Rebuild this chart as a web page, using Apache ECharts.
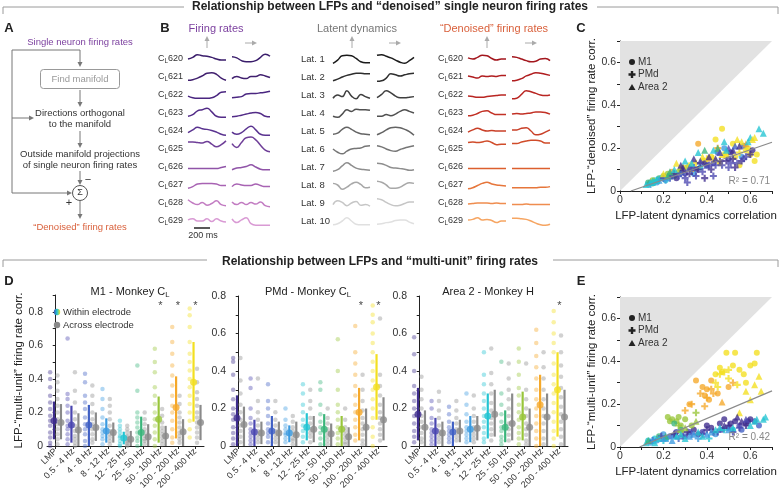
<!DOCTYPE html>
<html>
<head>
<meta charset="utf-8">
<script src="https://cdn.jsdelivr.net/npm/echarts@6/dist/echarts.min.js"></script>
<style>html,body{margin:0;padding:0;background:#fff}#chart{width:781px;height:493px}</style>
</head>
<body>
<div id="chart"></div>
<script>
const FONT = '"Liberation Sans", Arial, Helvetica, sans-serif';

// ---- frequency bands (panel D, colours also used in C / E)
const bandNames = ['LMP', '0.5 - 4 Hz', '4 - 8 Hz', '8 - 12 Hz', '12 - 25 Hz', '25 - 50 Hz', '50 - 100 Hz', '100 - 200 Hz', '200 - 400 Hz'];
const bandColors = ['#3d2c8d', '#4a46b0', '#3f5fc4', '#3b9ae0', '#22c4d2', '#3ab57a', '#98c53a', '#f5a829', '#f3df1f'];

// ---- panel B traces (shape per row, up = positive)
const firingLabels = ['620', '621', '622', '623', '624', '625', '626', '627', '628', '629'];
const latentLabels = ['Lat. 1', 'Lat. 2', 'Lat. 3', 'Lat. 4', 'Lat. 5', 'Lat. 6', 'Lat. 7', 'Lat. 8', 'Lat. 9', 'Lat. 10'];
const firingCol1 = [
  [0, 0.3, 0.8, 0.6, 0.5, 0.3, 0, -0.2, -0.2],
  [-0.6, -0.5, -0.2, 0.2, 0.7, 0.8, 0.5, -0.2, -0.6],
  [-0.2, -0.5, -0.6, -0.6, -0.6, -0.5, -0.1, 0.5, 0.6],
  [-0.6, -0.3, 0.4, 0.6, 0.9, 0.2, -0.6, -0.8, -0.8],
  [-0.3, 0.2, 0.7, 0.4, 0.3, 0.1, -0.2, -0.6, -0.8],
  [1.3, 1.3, 1.2, 1.1, 1.4, 0.9, 0.4, 0.8, 1.5],
  [-0.3, -0.3, -0.3, -0.3, -0.3, -0.3, -0.3, -0.1, 0.1],
  [-0.6, -0.3, 0.2, 0.3, 0.3, 0.3, 0.2, -0.1, -0.1],
  [0.6, 0, -0.3, 0.1, -0.4, -0.1, 0.4, -0.3, -0.5],
  [0.2, 0.4, 0, 0, 0.4, -0.1, 0.4, 0, -0.2]
];
const firingCol2 = [
  [0.4, 0.2, -0.3, -0.5, -0.5, -0.3, 0.3, 0.9, 0.5],
  [-0.3, 0.1, -0.2, -0.3, 0.1, 0.1, 0.4, 0.2, -0.1],
  [-0.5, -0.4, -0.3, 0.2, 0.3, 0.3, 0.4, 0.5, 0.7],
  [-0.7, -0.6, -0.4, -0.2, 0, 0.1, -0.1, -0.6, -0.7],
  [-0.2, -0.6, -0.3, 0.4, 0.9, 0.2, -0.6, -0.8, -0.8],
  [1.0, 0.3, 1.2, 2.1, 2.2, 1.7, 0.7, -0.2, -0.5],
  [-0.5, -0.2, -0.1, 0.1, 0.4, 0, -0.4, -0.5, -0.5],
  [-0.3, 0.2, 0, -0.1, -0.1, 0.2, -0.1, -0.3, -0.3],
  [0.2, -0.3, 0.1, -0.3, 0.1, -0.2, 0.2, -0.5, -0.7],
  [0.4, -0.3, 0.2, 0.6, -0.5, -0.8, -0.8, -0.8, -0.8]
];
const latentCol1 = [
  [-0.8, -0.2, 0.6, 0.7, 0.6, 0.1, -0.5, -0.7, -0.7],
  [-0.7, -0.4, 0, 0.3, 0.5, 0.7, 0.7, 0.6, 0.6],
  [-0.6, 0, -0.3, 0.8, -0.2, -0.7, 0.1, -0.3, -0.6],
  [-0.6, -0.8, -0.2, 0.6, 0.3, 0.7, 0.6, 0.6, 0.5],
  [-0.6, -0.4, 0.3, 0.7, 0.3, -0.2, -0.5, -0.6, -0.7],
  [0, -0.6, -0.9, -0.4, 0, 0.1, 0.2, 0.5, 0.6],
  [-0.8, -0.5, 0.2, 0.8, 0.3, -0.2, -0.4, -0.5, -0.6],
  [0.3, 0, -0.8, -0.4, 0.2, 0.5, 0.1, -0.5, -0.4],
  [-0.3, 0.4, 0.1, -0.5, 0, 0.3, -0.4, -0.3, -0.6],
  [-0.7, -0.5, 0, 0.6, 0, -0.6, -0.7, -0.7, -0.7]
];
const latentCol2 = [
  [0.7, 0.8, 0.5, 0.2, -0.2, -0.6, -0.8, -0.3, 0.3],
  [-0.8, -0.7, -0.2, 0.6, 0.4, 0.2, 0.4, 0.6, 0.7],
  [-0.5, 0.1, 0.8, 0.4, -0.2, -0.5, -0.5, -0.4, -0.3],
  [-0.6, -0.6, -0.3, -0.5, -0.2, 0.3, 0.6, 0.3, 0],
  [-0.7, -0.3, 0.2, 0.6, 0.7, 0.6, 0.3, -0.1, -0.8],
  [0.6, 0.4, 0, -0.3, -0.4, -0.1, 0.2, 0.4, 0.6],
  [0.7, 0.6, 0.3, -0.1, -0.2, -0.3, -0.4, -0.6, -0.5],
  [0.7, 0.5, 0, -0.6, -0.6, -0.4, 0.1, 0.4, 0.3],
  [0.8, 0.6, 0.1, -0.3, -0.5, -0.4, -0.1, 0.2, 0.2],
  [-0.6, -0.5, -0.3, -0.2, 0.1, 0.2, 0.2, -0.2, -0.5]
];
const denoisedCol1 = [
  [0.2, 0, 0.3, 0.7, 0.6, 0.1, -0.2, 0, 0],
  [0.2, 0, -0.2, 0.2, 0.1, 0.2, 0.1, 0.3, 0.3],
  [-0.2, -0.3, -0.4, -0.4, -0.3, -0.2, -0.1, 0, 0],
  [-0.5, -0.4, -0.1, 0.3, 0.4, 0, -0.3, -0.3, -0.3],
  [-0.2, 0.2, 0.5, 0.2, 0, 0.1, 0, 0, 0],
  [1.2, 1.3, 1.2, 1.3, 1.5, 1.2, 0.8, 0.9, 0.9],
  [-0.3, -0.3, -0.3, -0.3, -0.3, -0.3, -0.3, -0.3, -0.3],
  [-0.7, -0.5, -0.1, 0.3, 0.5, 0.2, 0, -0.1, -0.2],
  [-0.2, -0.1, 0, 0, 0, -0.1, 0, -0.1, -0.1],
  [0.2, 0.3, 0.6, 0.2, 0.3, 0.1, -0.3, 0, 0]
];
const denoisedCol2 = [
  [0.4, 0.3, 0, -0.3, -0.5, -0.4, 0, 0.1, -0.3],
  [-0.7, -0.6, -0.3, 0.2, 0.5, 0.8, 0.7, 0.5, 0.3],
  [-0.7, -0.6, 0.1, 0.8, 0.6, 0.3, 0, -0.1, 0],
  [-0.2, -0.1, -0.2, -0.1, 0, 0.2, 0.2, 0.1, -0.2],
  [0.2, 0.2, 0.5, 0.6, 0, -0.7, -0.6, -0.2, 0.2],
  [1.0, 1.0, 1.3, 1.5, 1.6, 1.6, 1.5, 1.1, 1.1],
  [-0.3, -0.3, -0.3, -0.3, -0.3, -0.3, -0.3, -0.3, -0.3],
  [-0.5, -0.5, -0.5, -0.5, -0.5, -0.5, -0.4, -0.4, -0.3],
  [-0.3, -0.3, -0.3, -0.2, -0.3, -0.3, -0.3, -0.3, -0.3],
  [0.5, 0.5, 0.4, 0.3, 0, -0.4, -0.7, -0.8, -0.6]
];
const firingColors = ['#3a1d6b', '#41206f', '#4a2680', '#522b87', '#5a3390', '#6f3f98', '#9054a8', '#a863b3', '#c27cc2', '#d99ad4'];
const latentColors = ['#1b1b1b', '#2e2e2e', '#3f3f3f', '#505050', '#646464', '#767676', '#8e8e8e', '#a8a8a8', '#c6c6c6', '#e0e0e0'];
const denoisedColors = ['#a3161d', '#b01d1f', '#b92622', '#c23125', '#c93f27', '#d04c2a', '#dc5f2e', '#e6763b', '#ef8d4f', '#f6a562'];

// ---- panel C : [latent corr, denoised corr, band]
const cM1 = [[0.13,0.03,4],[0.14,0.04,3],[0.15,0.035,5],[0.16,0.05,4],[0.17,0.04,3],[0.18,0.06,5],[0.2,0.07,6],[0.21,0.05,4],[0.22,0.08,6],[0.24,0.09,7],[0.25,0.07,5],[0.26,0.06,0],[0.28,0.1,8],[0.3,0.08,1],[0.31,0.11,6],[0.32,0.12,8],[0.35,0.1,0],[0.36,0.22,7],[0.38,0.14,8],[0.4,0.12,2],[0.41,0.15,7],[0.42,0.16,8],[0.45,0.18,2],[0.47,0.29,8],[0.48,0.2,3],[0.5,0.15,1],[0.52,0.22,8],[0.55,0.12,8],[0.57,0.21,2],[0.58,0.19,8],[0.6,0.17,8],[0.62,0.14,8],[0.46,0.13,8],[0.34,0.08,3],
  [0.13,0.04,5],[0.15,0.05,6],[0.19,0.06,4],[0.23,0.07,5],[0.27,0.09,6],[0.29,0.11,8],[0.33,0.1,7],[0.37,0.11,4],[0.39,0.13,0],[0.43,0.13,1],[0.49,0.17,8],[0.51,0.18,0],[0.53,0.16,8],[0.56,0.16,3],[0.59,0.2,8],[0.61,0.19,0],[0.63,0.17,8],[0.44,0.24,8]];
const cPMd = [[0.14,0.03,3],[0.17,0.05,4],[0.2,0.06,1],[0.23,0.06,2],[0.25,0.08,0],[0.27,0.07,1],[0.29,0.09,0],[0.3,0.06,1],[0.33,0.1,2],[0.35,0.07,1],[0.35,0.13,8],[0.37,0.13,0],[0.38,0.09,1],[0.4,0.15,8],[0.42,0.1,0],[0.43,0.07,1],[0.44,0.12,1],[0.45,0.2,7],[0.46,0.14,0],[0.48,0.17,8],[0.5,0.11,1],[0.52,0.15,0],[0.54,0.13,1],[0.56,0.14,0],[0.58,0.16,1],[0.55,0.18,8],[0.31,0.04,1],[0.39,0.06,0],
  [0.16,0.04,4],[0.21,0.05,3],[0.24,0.07,1],[0.28,0.08,2],[0.32,0.08,0],[0.34,0.11,1],[0.36,0.1,0],[0.41,0.12,1],[0.47,0.12,1],[0.49,0.14,0],[0.51,0.13,1],[0.53,0.11,0],[0.57,0.15,1],[0.6,0.17,0],[0.43,0.15,8]];
const cArea2 = [[0.12,0.03,4],[0.15,0.045,4],[0.18,0.05,3],[0.2,0.08,8],[0.23,0.09,5],[0.26,0.13,8],[0.28,0.12,0],[0.3,0.14,4],[0.32,0.11,1],[0.34,0.15,0],[0.36,0.18,4],[0.38,0.16,8],[0.4,0.12,1],[0.43,0.19,4],[0.45,0.2,5],[0.47,0.17,8],[0.5,0.2,1],[0.52,0.19,0],[0.53,0.21,2],[0.54,0.24,8],[0.56,0.23,8],[0.6,0.25,4],[0.61,0.24,8],[0.64,0.29,4],[0.66,0.27,4],[0.58,0.22,7],[0.44,0.15,0],
  [0.14,0.04,4],[0.17,0.05,4],[0.22,0.07,5],[0.25,0.1,4],[0.29,0.11,0],[0.33,0.13,4],[0.37,0.14,1],[0.41,0.16,0],[0.46,0.18,1],[0.49,0.19,4],[0.55,0.21,0],[0.62,0.25,8],[0.59,0.23,4],[0.48,0.23,4],[0.39,0.19,5]];
const cFit = [[0.05, 0], [0.7, 0.2275]];
const cR2 = 'R² = 0.71';

// ---- panel E : [latent corr, multi-unit corr, band]
const eM1 = [[0.22,0.14,6],[0.24,0.13,6],[0.26,0.12,6],[0.27,0.14,6],[0.28,0.1,6],[0.3,0.13,6],[0.32,0.2,7],[0.35,0.31,7],[0.38,0.28,7],[0.39,0.24,7],[0.4,0.27,7],[0.41,0.22,7],[0.42,0.31,7],[0.44,0.34,8],[0.45,0.25,7],[0.46,0.37,8],[0.47,0.35,8],[0.49,0.44,8],[0.5,0.28,7],[0.52,0.38,8],[0.53,0.44,8],[0.55,0.36,8],[0.57,0.34,8],[0.58,0.3,8],[0.6,0.38,8],[0.62,0.39,8],[0.63,0.44,8],
  [0.14,0.02,3],[0.16,0.04,4],[0.18,0.05,5],[0.2,0.06,3],[0.23,0.05,2],[0.26,0.07,1],[0.3,0.05,2],[0.34,0.08,0],[0.38,0.07,1],[0.42,0.09,0],[0.44,0.06,3],[0.46,0.11,0],[0.48,0.13,0],[0.5,0.09,1],[0.52,0.08,4],[0.53,0.12,0],[0.55,0.1,1],[0.58,0.11,0],[0.6,0.13,0],[0.62,0.12,1],[0.64,0.1,2],
  [0.13,0.03,4],[0.17,0.03,3],[0.21,0.04,4],[0.25,0.05,3],[0.28,0.08,5],[0.32,0.07,1],[0.36,0.06,0],[0.4,0.1,0],[0.47,0.08,1],[0.51,0.11,0],[0.56,0.08,2],[0.59,0.12,0],[0.23,0.12,6],[0.25,0.11,5],[0.33,0.1,6]];
const ePMd = [[0.27,0.1,6],[0.28,0.07,6],[0.3,0.17,7],[0.33,0.2,7],[0.35,0.16,6],[0.37,0.25,7],[0.4,0.23,7],[0.42,0.27,7],[0.44,0.3,8],[0.46,0.34,8],[0.48,0.35,8],[0.5,0.32,8],[0.52,0.3,7],[0.54,0.29,8],
  [0.15,0.03,2],[0.19,0.05,1],[0.22,0.04,3],[0.25,0.06,0],[0.29,0.05,1],[0.33,0.06,2],[0.36,0.04,3],[0.4,0.08,0],[0.41,0.04,4],[0.45,0.07,1],[0.5,0.1,0],[0.55,0.09,1],
  [0.2,0.03,4],[0.27,0.04,2],[0.31,0.07,0],[0.38,0.06,1],[0.43,0.07,0],[0.48,0.08,4],[0.52,0.07,1],[0.58,0.1,0],[0.43,0.25,7],[0.45,0.28,8],[0.5,0.36,8],[0.39,0.19,7]];
const eArea2 = [[0.58,0.26,8],[0.62,0.29,8],[0.64,0.33,8],[0.6,0.22,8],[0.65,0.26,8],[0.47,0.21,7],[0.55,0.16,8],[0.3,0.09,6],[0.35,0.12,6],
  [0.12,0.02,4],[0.15,0.03,3],[0.18,0.04,4],[0.21,0.05,5],[0.24,0.03,3],[0.28,0.06,4],[0.32,0.05,3],[0.36,0.07,4],[0.4,0.06,3],[0.44,0.08,4],[0.48,0.1,0],[0.52,0.09,4],[0.54,0.14,0],[0.56,0.12,0],[0.58,0.13,1],[0.6,0.1,4],[0.63,0.13,4],[0.66,0.13,4],
  [0.13,0.03,5],[0.16,0.02,4],[0.2,0.04,3],[0.26,0.05,4],[0.3,0.04,4],[0.34,0.06,3],[0.38,0.05,4],[0.42,0.07,3],[0.46,0.09,4],[0.5,0.08,3],[0.62,0.12,4],[0.67,0.14,4]];
const eFit = [[0.09, 0], [0.7, 0.262]];
const eR2 = 'R² = 0.42';

// ---- panel D : M1 - Monkey CL
const m1WithinDots = [
  [0.44,0.4,0.35,0.3,0.26,0.22,0.18,0.15,0.12,0.08,0.05,0.02,0],
  [0.64,0.31,0.28,0.24,0.2,0.15,0.12,0.1,0.07,0.04,0.01],
  [0.43,0.38,0.3,0.26,0.22,0.17,0.13,0.1,0.07,0.03,0],
  [0.34,0.28,0.22,0.17,0.13,0.1,0.08,0.06,0.04,0.01],
  [0.15,0.12,0.1,0.08,0.06,0.05,0.03,0.01,0],
  [0.48,0.33,0.2,0.17,0.14,0.11,0.08,0.05,0.03,0],
  [0.58,0.5,0.44,0.35,0.3,0.25,0.2,0.16,0.12,0.08,0.04,0],
  [0.71,0.62,0.55,0.48,0.42,0.36,0.3,0.24,0.2,0.15,0.1,0.05,0.02],
  [0.82,0.78,0.71,0.62,0.55,0.5,0.45,0.4,0.35,0.3,0.25,0.2,0.15,0.1,0.05]
];
const m1AcrossDots = [
  [0.42,0.38,0.33,0.28,0.24,0.2,0.16,0.13,0.1,0.07,0.04,0.01],
  [0.44,0.33,0.26,0.2,0.16,0.12,0.09,0.06,0.04,0.02,0],
  [0.36,0.3,0.25,0.2,0.16,0.13,0.1,0.07,0.04,0.02],
  [0.28,0.24,0.2,0.16,0.12,0.09,0.07,0.05,0.03,0.01],
  [0.12,0.1,0.08,0.06,0.05,0.04,0.03,0.02,0.01,0],
  [0.2,0.16,0.13,0.1,0.08,0.06,0.04,0.03,0.01],
  [0.22,0.18,0.14,0.11,0.09,0.07,0.05,0.03,0.01],
  [0.3,0.25,0.2,0.17,0.14,0.11,0.08,0.06,0.04,0.02],
  [0.46,0.38,0.32,0.28,0.24,0.2,0.17,0.14,0.11,0.08,0.05,0.02]
];
const m1WithinStats = [[0.15,0.04,0.265],[0.125,0.02,0.24],[0.125,0,0.245],[0.09,0.02,0.165],[0.048,0.01,0.085],[0.08,0,0.175],[0.16,0.02,0.295],[0.23,0.045,0.415],[0.38,0.145,0.62]];
const m1AcrossStats = [[0.14,0.04,0.25],[0.095,0,0.195],[0.11,0.03,0.2],[0.08,0.02,0.14],[0.04,0,0.09],[0.055,0,0.13],[0.06,0,0.12],[0.085,0,0.16],[0.14,0.035,0.245]];
const m1Stars = [6, 7, 8];
const m1StarY = 0.835;

// ---- panel D : PMd - Monkey CL
const pmdWithinDots = [
  [0.47,0.45,0.38,0.3,0.25,0.2,0.17,0.14,0.1,0.07,0.04,0.01],
  [0.36,0.31,0.2,0.15,0.12,0.09,0.07,0.05,0.03,0.01],
  [0.33,0.24,0.2,0.16,0.12,0.09,0.07,0.05,0.02],
  [0.2,0.14,0.11,0.09,0.07,0.06,0.04,0.02],
  [0.33,0.28,0.22,0.18,0.14,0.11,0.08,0.05,0.02],
  [0.34,0.3,0.22,0.17,0.13,0.1,0.07,0.04,0.01],
  [0.57,0.4,0.3,0.22,0.18,0.14,0.1,0.07,0.04,0.01],
  [0.64,0.5,0.44,0.38,0.32,0.27,0.22,0.18,0.14,0.1,0.06,0.03],
  [0.75,0.7,0.66,0.6,0.55,0.5,0.45,0.4,0.35,0.3,0.25,0.2,0.15,0.1,0.05,0]
];
const pmdAcrossDots = [
  [0.47,0.35,0.28,0.22,0.18,0.14,0.11,0.08,0.05,0.02],
  [0.36,0.24,0.18,0.14,0.11,0.08,0.06,0.04,0.02],
  [0.24,0.18,0.14,0.11,0.08,0.06,0.04,0.02],
  [0.16,0.13,0.1,0.08,0.06,0.04,0.03,0.01],
  [0.3,0.24,0.2,0.15,0.12,0.09,0.07,0.05,0.02],
  [0.2,0.15,0.12,0.09,0.07,0.05,0.03,0.01],
  [0.2,0.14,0.1,0.08,0.06,0.04,0.02,0.01],
  [0.38,0.3,0.24,0.19,0.15,0.12,0.09,0.06,0.03,0.01],
  [0.68,0.38,0.32,0.27,0.22,0.18,0.15,0.12,0.09,0.06,0.03]
];
const pmdWithinStats = [[0.15,0,0.27],[0.075,0,0.14],[0.08,0,0.16],[0.07,0.02,0.11],[0.1,0.03,0.175],[0.09,0,0.17],[0.09,0,0.16],[0.18,0.03,0.31],[0.315,0.14,0.49]];
const pmdAcrossStats = [[0.115,0,0.21],[0.07,0.01,0.13],[0.07,0,0.13],[0.06,0,0.13],[0.09,0.02,0.16],[0.065,0,0.12],[0.05,0,0.1],[0.1,0,0.2],[0.14,0.03,0.26]];
const pmdStars = [7, 8];
const pmdStarY = 0.745;

// ---- panel D : Area 2 - Monkey H
const a2WithinDots = [
  [0.58,0.49,0.4,0.32,0.28,0.24,0.2,0.16,0.12,0.08,0.05,0.02],
  [0.24,0.2,0.15,0.12,0.09,0.07,0.05,0.03,0.01],
  [0.21,0.17,0.13,0.1,0.08,0.06,0.04,0.02],
  [0.28,0.22,0.17,0.13,0.1,0.08,0.06,0.04,0.02],
  [0.5,0.38,0.33,0.28,0.24,0.2,0.16,0.13,0.1,0.07,0.04,0.02],
  [0.45,0.28,0.22,0.17,0.13,0.1,0.08,0.05,0.03,0.01],
  [0.52,0.45,0.38,0.31,0.27,0.22,0.18,0.14,0.1,0.07,0.04,0.01],
  [0.62,0.55,0.48,0.42,0.36,0.3,0.25,0.2,0.16,0.12,0.08,0.04,0],
  [0.72,0.66,0.6,0.55,0.5,0.44,0.38,0.33,0.28,0.23,0.18,0.13,0.08,0.04,0]
];
const a2AcrossDots = [
  [0.37,0.3,0.25,0.2,0.16,0.13,0.1,0.07,0.04,0.02],
  [0.29,0.24,0.19,0.15,0.11,0.08,0.06,0.04,0.02],
  [0.24,0.19,0.15,0.12,0.09,0.07,0.05,0.03],
  [0.27,0.2,0.16,0.13,0.1,0.08,0.06,0.04,0.02],
  [0.52,0.39,0.33,0.28,0.23,0.19,0.15,0.12,0.09,0.06,0.03],
  [0.44,0.36,0.3,0.25,0.2,0.16,0.12,0.09,0.06,0.03],
  [0.44,0.3,0.25,0.2,0.16,0.12,0.09,0.06,0.03,0.01],
  [0.5,0.42,0.36,0.3,0.25,0.2,0.16,0.12,0.08,0.04,0.01],
  [0.59,0.5,0.43,0.37,0.31,0.26,0.21,0.17,0.13,0.09,0.05,0.01]
];
const a2WithinStats = [[0.17,0.03,0.31],[0.08,0,0.15],[0.075,0,0.13],[0.09,0.02,0.16],[0.16,0.04,0.28],[0.1,0.02,0.19],[0.155,0.03,0.29],[0.22,0,0.38],[0.3,0.05,0.5]];
const a2AcrossStats = [[0.1,0,0.19],[0.07,0,0.13],[0.08,0.02,0.14],[0.095,0.03,0.16],[0.17,0.05,0.3],[0.12,0.03,0.28],[0.1,0,0.2],[0.155,0,0.28],[0.155,0,0.3]];
const a2Stars = [8];
const a2StarY = 0.745;

// ---------------------------------------------------------------
const grid = [], xAxis = [], yAxis = [], series = [], graphic = [];

function txt(x, y, text, opt) {
  opt = opt || {};
  const align = opt.align || 'center';
  const va = opt.verticalAlign || 'middle';
  return {
    type: 'text', x: x, y: y, silent: true, z: 100,
    style: Object.assign({
      text: text, fill: '#222', fontSize: 9.5, fontFamily: FONT,
      align: align, textAlign: align, verticalAlign: va, textVerticalAlign: va
    }, opt)
  };
}
function subText(x, y, main, sub, rest, opt) {
  opt = opt || {};
  const fs = opt.fontSize || 9;
  const color = opt.fill || '#222';
  const t = txt(x, y, '{a|' + main + '}{s|' + sub + '}' + (rest ? '{a|' + rest + '}' : ''), opt);
  t.style.rich = {
    a: { fontSize: fs, fontFamily: FONT, fill: color, color: color, lineHeight: fs + 4 },
    s: { fontSize: fs * 0.7, fontFamily: FONT, fill: color, color: color, lineHeight: fs * 0.7, padding: [fs * 0.55, 0, 0, 0] }
  };
  return t;
}
function line(x1, y1, x2, y2, color, w) {
  return { type: 'line', silent: true, z: 100, shape: { x1: x1, y1: y1, x2: x2, y2: y2 }, style: { stroke: color, lineWidth: w || 1 } };
}
function shape(type, shp, style) {
  return { type: type, silent: true, z: 100, shape: shp, style: style };
}
function arrow(x1, y1, x2, y2, color, head) {
  const a = Math.atan2(y2 - y1, x2 - x1), L = head || 5, W = L * 0.5;
  const bx = x2 - L * Math.cos(a), by = y2 - L * Math.sin(a);
  const px = -Math.sin(a) * W, py = Math.cos(a) * W;
  return [line(x1, y1, bx, by, color, 1),
    shape('polygon', { points: [[x2, y2], [bx + px, by + py], [bx - px, by - py]] }, { fill: color })];
}
const fmt02 = v => (Math.abs(v * 5 - Math.round(v * 5)) < 1e-6) ? (Math.abs(v) < 1e-9 ? '0' : (+v).toFixed(1)) : '';

// ---- section headers
const GRAY = '#9a9a9a';
graphic.push(txt(390, 7, 'Relationship between LFPs and \u201cdenoised\u201d single neuron firing rates', { fontSize: 12, fontWeight: 'bold' }));
graphic.push(line(3, 7, 184, 7, GRAY), line(3, 7, 3, 14, GRAY), line(597, 7, 778, 7, GRAY), line(778, 7, 778, 14, GRAY));
graphic.push(txt(380, 262, 'Relationship between LFPs and \u201cmulti-unit\u201d firing rates', { fontSize: 12, fontWeight: 'bold' }));
graphic.push(line(3, 260, 207, 260, GRAY), line(3, 260, 3, 267, GRAY), line(553, 260, 778, 260, GRAY), line(778, 260, 778, 267, GRAY));

// ---- panel letters
[['A', 9, 28], ['B', 165, 28], ['C', 581, 28], ['D', 9, 281], ['E', 581, 281]].forEach(p =>
  graphic.push(txt(p[1], p[2], p[0], { fontSize: 13, fontWeight: 'bold' })));

// ---- panel A flowchart
const AG = '#777';
graphic.push(txt(80, 42, 'Single neuron firing rates', { fill: '#7b3f9e' }));
graphic.push(line(12, 50, 80, 50, AG), line(12, 50, 12, 193, AG));
graphic.push(...arrow(80, 50, 80, 67, AG));
graphic.push(shape('rect', { x: 40.5, y: 69.5, width: 79, height: 19, r: 3 }, { fill: '#fff', stroke: '#999', lineWidth: 1 }));
graphic.push(txt(80, 79, 'Find manifold', { fill: '#999' }));
graphic.push(...arrow(80, 90, 80, 107, AG));
graphic.push(...arrow(12, 118, 34, 118, AG));
graphic.push(txt(80, 113, 'Directions orthogonal', { fill: '#333' }), txt(80, 124, 'to the manifold', { fill: '#333' }));
graphic.push(...arrow(80, 131, 80, 148, AG));
graphic.push(txt(80, 154, 'Outside manifold projections', { fill: '#333' }), txt(80, 165, 'of single neuron firing rates', { fill: '#333' }));
graphic.push(...arrow(80, 171, 80, 185, AG));
graphic.push(txt(88, 180, '\u2212', { fill: '#333', fontSize: 11 }));
graphic.push(...arrow(12, 193, 72, 193, AG));
graphic.push(shape('circle', { cx: 80, cy: 193, r: 7.5 }, { fill: '#fff', stroke: '#555', lineWidth: 1 }));
graphic.push(txt(80, 193, '\u03a3', { fill: '#333', fontSize: 9 }));
graphic.push(txt(69, 203, '+', { fill: '#333', fontSize: 11 }));
graphic.push(...arrow(80, 201, 80, 219, AG));
graphic.push(txt(80, 227, '\u201cDenoised\u201d firing rates', { fill: '#d9603b' }));

// ---- panel B traces
const traceCols = [
  { left: 188, width: 38, data: firingCol1, colors: firingColors },
  { left: 232, width: 38, data: firingCol2, colors: firingColors },
  { left: 333, width: 37, data: latentCol1, colors: latentColors },
  { left: 377, width: 37, data: latentCol2, colors: latentColors },
  { left: 468, width: 38, data: denoisedCol1, colors: denoisedColors },
  { left: 512, width: 38, data: denoisedCol2, colors: denoisedColors }
];
traceCols.forEach(col => {
  const gi = grid.length;
  grid.push({ left: col.left, top: 50, width: col.width, height: 180 });
  xAxis.push({ gridIndex: gi, type: 'value', min: 0, max: 8, show: false });
  yAxis.push({ gridIndex: gi, type: 'value', min: -10, max: 0, show: false });
  col.data.forEach((shp, r) => series.push({
    type: 'line', xAxisIndex: xAxis.length - 1, yAxisIndex: yAxis.length - 1,
    smooth: 0.5, showSymbol: false, silent: true, animation: false,
    lineStyle: { color: col.colors[r], width: 1.5 },
    data: shp.map((v, k) => [k, -(r + 0.5) + v * 0.3])
  }));
});
firingLabels.forEach((n, r) => {
  graphic.push(subText(183, 59 + 18 * r, 'C', 'L', n, { align: 'right', fontSize: 9, fill: '#333' }));
  graphic.push(subText(463, 59 + 18 * r, 'C', 'L', n, { align: 'right', fontSize: 9, fill: '#333' }));
});
latentLabels.forEach((n, r) => graphic.push(txt(301, 59 + 18 * r, n, { align: 'left', fontSize: 9.5, fill: '#333' })));
graphic.push(txt(216, 29, 'Firing rates', { fontSize: 11, fill: '#7b3f9e' }));
graphic.push(txt(357, 29, 'Latent dynamics', { fontSize: 11, fill: '#777' }));
graphic.push(txt(494, 29, '\u201cDenoised\u201d firing rates', { fontSize: 11, fill: '#d9603b' }));
[[207, 251], [352, 395], [487, 531]].forEach(p => {
  graphic.push(...arrow(p[0], 48, p[0], 36, '#aaa', 5));
  graphic.push(...arrow(p[1] - 6, 43, p[1] + 6, 43, '#aaa', 5));
});
graphic.push(line(194, 228, 210, 228, '#222', 1.5));
graphic.push(txt(203, 236, '200 ms', { fontSize: 9, fill: '#333' }));

// ---- panels C and E (scatter)
const plusPath = 'path://M3.5,0H6.5V3.5H10V6.5H6.5V10H3.5V6.5H0V3.5H3.5Z';
function scatterPanel(top, m1, pmd, area2, fit, r2, yName) {
  const gi = grid.length;
  grid.push({ left: 620, top: top, width: 152, height: 150 });
  const axisCommon = {
    gridIndex: gi, type: 'value', min: 0, max: 0.7, interval: 0.1,
    axisLine: { show: true, lineStyle: { color: '#222', width: 1 } },
    axisTick: { show: true, length: 3, lineStyle: { color: '#222' } },
    splitLine: { show: false },
    axisLabel: { formatter: fmt02, fontSize: 10.5, color: '#333', fontFamily: FONT, margin: 4 },
    nameLocation: 'middle', nameTextStyle: { fontSize: 11.5, color: '#222', fontFamily: FONT }
  };
  xAxis.push(Object.assign({}, axisCommon, { name: 'LFP-latent dynamics correlation', nameGap: 19 }));
  yAxis.push(Object.assign({}, axisCommon, { name: yName, nameGap: 22 }));
  const xi = xAxis.length - 1, yi = yAxis.length - 1;
  series.push({ type: 'line', xAxisIndex: xi, yAxisIndex: yi, silent: true, showSymbol: false, animation: false,
    data: [[0, 0], [0.7, 0.7]], lineStyle: { width: 0 }, areaStyle: { origin: 'end', color: '#e2e2e2', opacity: 1 }, z: 1 });
  series.push({ type: 'line', xAxisIndex: xi, yAxisIndex: yi, silent: true, showSymbol: false, animation: false,
    data: fit, lineStyle: { color: '#8a8a8a', width: 1.3 }, z: 3 });
  [[m1, 'circle', 6], [pmd, plusPath, 7], [area2, 'triangle', 7]].forEach(s => series.push({
    type: 'scatter', xAxisIndex: xi, yAxisIndex: yi, silent: true, animation: false, symbol: s[1], symbolSize: s[2], z: 2,
    data: s[0].map(p => ({ value: [p[0], p[1]], itemStyle: { color: bandColors[p[2]], opacity: 0.78 } }))
  }));
  const ly = top + 21;
  graphic.push(shape('circle', { cx: 632, cy: ly, r: 3 }, { fill: '#222' }));
  graphic.push(shape('polygon', { points: [[630.8, ly + 9], [633.2, ly + 9], [633.2, ly + 11.3], [635.5, ly + 11.3], [635.5, ly + 13.7], [633.2, ly + 13.7], [633.2, ly + 16], [630.8, ly + 16], [630.8, ly + 13.7], [628.5, ly + 13.7], [628.5, ly + 11.3], [630.8, ly + 11.3]] }, { fill: '#222' }));
  graphic.push(shape('polygon', { points: [[632, ly + 22], [635.5, ly + 28], [628.5, ly + 28]] }, { fill: '#222' }));
  graphic.push(txt(638, ly, 'M1', { align: 'left', fontSize: 10, fill: '#333' }));
  graphic.push(txt(638, ly + 12.5, 'PMd', { align: 'left', fontSize: 10, fill: '#333' }));
  graphic.push(txt(638, ly + 25.5, 'Area 2', { align: 'left', fontSize: 10, fill: '#333' }));
  graphic.push(txt(770, top + 140, r2, { align: 'right', fontSize: 10, fill: '#888' }));
}
scatterPanel(41, cM1, cPMd, cArea2, cFit, cR2, 'LFP-\u201cdenoised\u201d firing rate corr.');
scatterPanel(297, eM1, ePMd, eArea2, eFit, eR2, 'LFP-\u201cmulti-unit\u201d firing rate corr.');

// ---- panel D (bands)
function bandPanel(left, top, height, ymax, wDots, aDots, wStats, aStats, stars, starY, title, titleSub, titleX, showName) {
  const gi = grid.length;
  grid.push({ left: left, top: top, width: 157, height: height });
  xAxis.push({ gridIndex: gi, type: 'category', data: bandNames,
    axisLine: { show: true, lineStyle: { color: '#222', width: 1 } },
    axisTick: { show: true, alignWithLabel: true, length: 3, lineStyle: { color: '#222' } },
    axisLabel: { rotate: 45, fontSize: 9, color: '#333', fontFamily: FONT, margin: 4, interval: 0 } });
  xAxis.push({ gridIndex: gi, type: 'value', min: -0.5, max: 8.5, show: false });
  const xi = xAxis.length - 1;
  yAxis.push({ gridIndex: gi, type: 'value', min: 0, max: ymax, interval: 0.1,
    axisLine: { show: true, lineStyle: { color: '#222', width: 1 } },
    axisTick: { show: true, length: 3, lineStyle: { color: '#222' } },
    splitLine: { show: false },
    axisLabel: { formatter: fmt02, fontSize: 10.5, color: '#333', fontFamily: FONT, margin: 4 },
    name: showName ? 'LFP-\u201cmulti-unit\u201d firing rate corr.' : '', nameLocation: 'middle', nameGap: 17,
    nameTextStyle: { fontSize: 11.5, color: '#222', fontFamily: FONT } });
  const yi = yAxis.length - 1;
  const base = { xAxisIndex: xi, yAxisIndex: yi, silent: true, animation: false };
  series.push(Object.assign({ type: 'scatter', symbolSize: 4.5, z: 2,
    data: wDots.flatMap((arr, i) => arr.map(v => ({ value: [i - 0.32, v], itemStyle: { color: bandColors[i], opacity: 0.4 } }))) }, base));
  series.push(Object.assign({ type: 'scatter', symbolSize: 4.5, z: 2, itemStyle: { color: '#9a9a9a', opacity: 0.45 },
    data: aDots.flatMap((arr, i) => arr.map(v => [i + 0.1, v])) }, base));
  const bar = (stats, dx, colorFn) => Object.assign({ type: 'custom', z: 3,
    encode: { x: 0, y: [1, 2] },
    renderItem: (params, api) => {
      const p1 = api.coord([api.value(0), api.value(1)]);
      const p2 = api.coord([api.value(0), api.value(2)]);
      return { type: 'line', shape: { x1: p1[0], y1: p1[1], x2: p2[0], y2: p2[1] }, style: { stroke: colorFn(api.value(3)), lineWidth: 2.2 } };
    },
    data: stats.map((s, i) => [i + dx, s[1], s[2], i]) }, base);
  series.push(bar(wStats, -0.1, i => bandColors[i]));
  series.push(bar(aStats, 0.3, () => '#8a8a8a'));
  series.push(Object.assign({ type: 'scatter', symbolSize: 7, z: 4,
    data: wStats.map((s, i) => ({ value: [i - 0.1, s[0]], itemStyle: { color: bandColors[i] } })) }, base));
  series.push(Object.assign({ type: 'scatter', symbolSize: 7, z: 4, itemStyle: { color: '#8a8a8a' },
    data: aStats.map((s, i) => [i + 0.3, s[0]]) }, base));
  series.push(Object.assign({ type: 'scatter', symbolSize: 1, z: 5, itemStyle: { color: 'rgba(0,0,0,0)' },
    label: { show: true, position: 'inside', formatter: '*', fontSize: 11, color: '#111', fontFamily: FONT },
    data: stars.map(i => [i, starY]) }, base));
  graphic.push(subText(titleX, 292, title, titleSub, '', { fontSize: 11, fill: '#222' }));
}
bandPanel(47, 295, 151, 0.9, m1WithinDots, m1AcrossDots, m1WithinStats, m1AcrossStats, m1Stars, m1StarY, 'M1 - Monkey C', 'L', 130, true);
bandPanel(230, 296, 150, 0.8, pmdWithinDots, pmdAcrossDots, pmdWithinStats, pmdAcrossStats, pmdStars, pmdStarY, 'PMd - Monkey C', 'L', 308, false);
bandPanel(411, 296, 150, 0.8, a2WithinDots, a2AcrossDots, a2WithinStats, a2AcrossStats, a2Stars, a2StarY, 'Area 2 - Monkey H', '', 488, false);

// legend for D
graphic.push(shape('circle', { cx: 57, cy: 312, r: 3.2 },
  { fill: new echarts.graphic.LinearGradient(0, 0, 1, 0, [{ offset: 0, color: '#3d4fb5' }, { offset: 0.5, color: '#22c4d2' }, { offset: 1, color: '#f3df1f' }]) }));
graphic.push(shape('circle', { cx: 57, cy: 325, r: 3.2 }, { fill: '#8a8a8a' }));
graphic.push(txt(63, 312, 'Within electrode', { align: 'left', fontSize: 9.5, fill: '#333' }));
graphic.push(txt(63, 325, 'Across electrode', { align: 'left', fontSize: 9.5, fill: '#333' }));

const chart = echarts.init(document.getElementById('chart'), null, { renderer: 'canvas' });
chart.setOption({
  backgroundColor: '#fff',
  animation: false,
  textStyle: { fontFamily: FONT },
  grid: grid, xAxis: xAxis, yAxis: yAxis, series: series, graphic: graphic
});
</script>
</body>
</html>
